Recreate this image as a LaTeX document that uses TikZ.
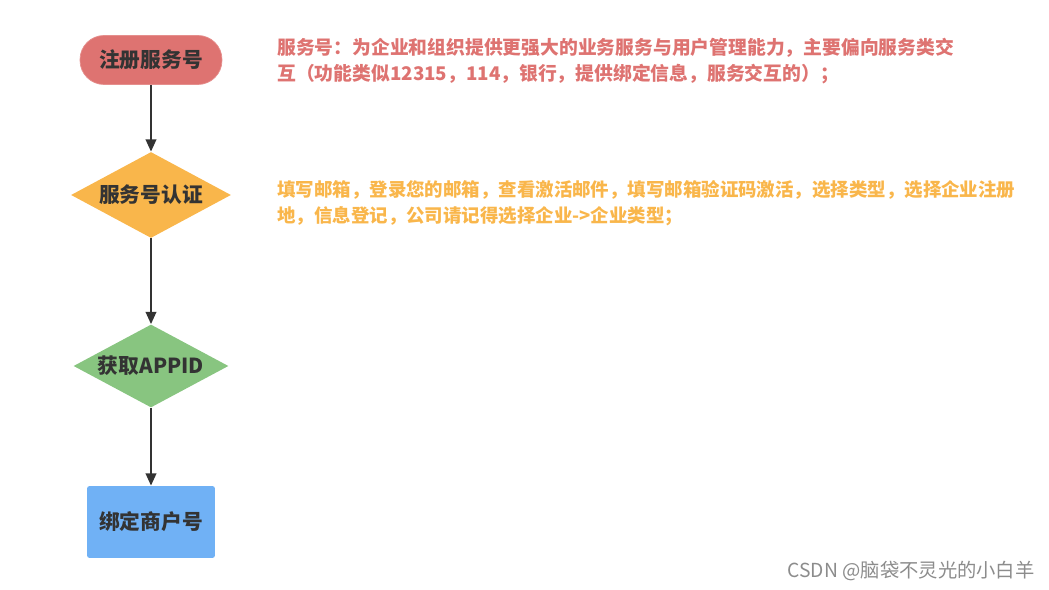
\documentclass[tikz,border=0pt]{standalone}
\usepackage{fontspec}
\setmainfont{Noto Sans CJK SC}
\usetikzlibrary{shapes.geometric,arrows.meta}

\definecolor{regred}{HTML}{DE7371}
\definecolor{certorange}{HTML}{F9B64B}
\definecolor{appgreen}{HTML}{88C580}
\definecolor{bindblue}{HTML}{70B1F5}
\definecolor{labelgray}{HTML}{333333}

\tikzset{
  stepstart/.style={rectangle, rounded corners=0.48cm, fill=regred, draw=regred!80,
    minimum width=2.84cm, minimum height=0.98cm, inner sep=0pt},
  stepcheck/.style={diamond, shape aspect=1.86, inner sep=0pt},
  stepend/.style={rectangle, rounded corners=1.5pt, fill=bindblue,
    minimum width=2.56cm, minimum height=1.44cm, inner sep=0pt},
  flowarrow/.style={draw=labelgray, line width=1.2pt, -{Triangle[length=7pt,width=6pt]}},
  notetext/.style={anchor=north west, inner sep=0pt, align=left}
}

\begin{document}
\begin{tikzpicture}[x=0.02cm, y=-0.02cm, font=\fontsize{11.8}{13}\selectfont\bfseries, text=labelgray]
% keep the page the size of the reference
\useasboundingbox (0,0) rectangle (1049,590);

% the four steps
\node[stepstart] (register) at (151,60) {注册服务号};
\node[stepcheck, fill=certorange, minimum width=3.2cm, minimum height=1.72cm] (certify) at (151,195) {服务号认证};
\node[stepcheck, fill=appgreen, minimum width=3.1cm, minimum height=1.66cm] (appid) at (151,366) {获取APPID};
\node[stepend] (bind) at (151,522) {绑定商户号};

% arrows between the steps
\draw[flowarrow] (register) -- (certify);
\draw[flowarrow] (certify) -- (appid);
\draw[flowarrow] (appid) -- (bind);

% notes on the right
\node[notetext, text=regred, font=\fontsize{10.7}{14.7}\selectfont\bfseries] (regnote) at (277,38) {服务号：为企业和组织提供更强大的业务服务与用户管理能力，主要偏向服务类交\\互（功能类似12315，114，银行，提供绑定信息，服务交互的）；};
\node[notetext, text=certorange, font=\fontsize{10.5}{14.7}\selectfont\bfseries] (certnote) at (277,180) {填写邮箱，登录您的邮箱，查看激活邮件，填写邮箱验证码激活，选择类型，选择企业注册\\地，信息登记，公司请记得选择企业->企业类型；};

% watermark
\node[anchor=east, inner sep=0pt, text=black!45, font=\fontsize{11}{12}\selectfont] (mark) at (1035,571) {CSDN @脑袋不灵光的小白羊};
\end{tikzpicture}
\end{document}
